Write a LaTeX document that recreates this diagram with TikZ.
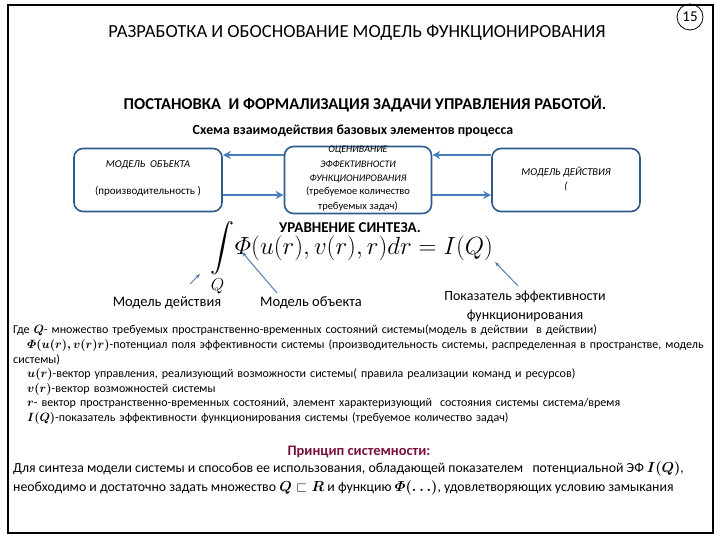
\documentclass[tikz,border=0pt]{standalone}
\usepackage{amsmath,amssymb}
\usepackage{fontspec}
\setmainfont{Carlito}
\usetikzlibrary{arrows.meta}
\definecolor{bx}{HTML}{2E5C8A}
\definecolor{ar}{HTML}{4A7EBB}
\definecolor{pr}{HTML}{7A1040}
\begin{document}
\begin{tikzpicture}[x=1pt,y=-1pt,
  box/.style={draw=bx,line width=1.6pt,rounded corners=9pt,fill=white},
  con/.style={ar,line width=2.2pt,-{Stealth[length=8pt,width=8pt]}},
  ptr/.style={ar!80!gray,line width=1pt,-{Stealth[length=5pt]}},
  tx/.style={inner sep=0pt,font=\fontsize{9}{11}\selectfont}]
\useasboundingbox (0,0) rectangle (720,540);
\draw[line width=1.2pt] (8,5) rectangle (713,533);
\node[draw,circle,line width=0.8pt,minimum size=26pt,inner sep=0pt,font=\fontsize{15}{15}\selectfont] (num) at (690,17) {15};
\node[tx,font=\fontsize{18.5}{20}\selectfont] (t1) at (357,33) {РАЗРАБОТКА И ОБОСНОВАНИЕ МОДЕЛЬ ФУНКЦИОНИРОВАНИЯ};
\node[tx,font=\bfseries\fontsize{16.5}{18}\selectfont] (t2) at (365,104) {ПОСТАНОВКА \ И ФОРМАЛИЗАЦИЯ ЗАДАЧИ УПРАВЛЕНИЯ РАБОТОЙ.};
\node[tx,font=\bfseries\fontsize{13.9}{15}\selectfont] (t3) at (353,131) {Схема взаимодействия базовых элементов процесса};
\node[box,minimum width=148pt,minimum height=63pt] (b1) at (148,180) {};
\node[box,minimum width=147pt,minimum height=67pt] (b2) at (358,180) {};
\node[box,minimum width=148pt,minimum height=63pt] (b3) at (566,180) {};
\node[tx,font=\itshape\fontsize{10.5}{12}\selectfont] (b1a) at (148,165) {МОДЕЛЬ \ ОБЪЕКТА};
\node[tx,font=\fontsize{11}{12}\selectfont] (b1b) at (148,191) {(производительность )};
\node[tx,align=center,font=\itshape\fontsize{10}{14.5}\selectfont] (b2a) at (358,165) {ОЦЕНИВАНИЕ\\ЭФФЕКТИВНОСТИ\\ФУНКЦИОНИРОВАНИЯ};
\node[tx,align=center,font=\fontsize{10.5}{14.5}\selectfont] (b2b) at (358,199) {(требуемое количество\\требуемых задач)};
\node[tx,align=center,font=\itshape\fontsize{10.5}{14}\selectfont] (b3a) at (566,179) {МОДЕЛЬ ДЕЙСТВИЯ\\(};
\draw[con] ([yshift=25pt]b2.west) -- ([yshift=25pt]b1.east);
\draw[con] ([yshift=25pt]b3.west) -- ([yshift=25pt]b2.east);
\draw[con] ([yshift=-15pt]b1.east) -- ([yshift=-15pt]b2.west);
\draw[con] ([yshift=-15pt]b2.east) -- ([yshift=-15pt]b3.west);
\node[tx,font=\bfseries\fontsize{15}{16}\selectfont] (eqt) at (350,228) {УРАВНЕНИЕ СИНТЕЗА.};
\node[inner sep=0pt,font=\fontsize{24}{28}\selectfont] (eq) at (352,259) {$\displaystyle\int\limits_{Q}\!\varPhi(u(r),v(r),r)dr=I(Q)$};
\node[tx,font=\fontsize{14.5}{16}\selectfont] (l1) at (167,303) {Модель действия};
\node[tx,font=\fontsize{14.5}{16}\selectfont] (l2) at (311,303) {Модель объекта};
\node[tx,align=center,font=\fontsize{14}{19}\selectfont] (l3) at (525,306) {Показатель эффективности\\функционирования};
\coordinate (p1) at (200,274); \coordinate (p2) at (242,252); \coordinate (p3) at (495,262);
\draw[ptr] (190,284) -- (p1);
\draw[ptr] (277,293) -- (p2);
\draw[ptr] (518,286) -- (p3);
\node[tx,anchor=north west,align=left,text width=692pt,font=\fontsize{12}{14.6}\selectfont] (def) at (13,325) {Где $\boldsymbol{Q}$- множество требуемых пространственно-временных состояний системы(модель в действии \ в действии)\\
\hspace*{14pt}$\boldsymbol{\varPhi(u(r),v(r)r)}$-потенциал поля эффективности системы (производительность системы, распределенная в пространстве, модель системы)\\
\hspace*{14pt}$\boldsymbol{u(r)}$-вектор управления, реализующий возможности системы( правила реализации команд и ресурсов)\\
\hspace*{14pt}$\boldsymbol{v(r)}$-вектор возможностей системы\\
\hspace*{14pt}$\boldsymbol{r}$- вектор пространственно-временных состояний, элемент характеризующий \ состояния системы система/время\\
\hspace*{14pt}$\boldsymbol{I(Q)}$-показатель эффективности функционирования системы (требуемое количество задач)};
\node[tx,text=pr,font=\bfseries\fontsize{14.5}{16}\selectfont] (pt) at (359,452) {Принцип системности:};
\node[tx,anchor=north west,align=left,font=\fontsize{13.8}{19}\selectfont] (pb) at (13,461) {Для синтеза модели системы и способов ее использования, обладающей показателем \ \ потенциальной ЭФ $\boldsymbol{I(Q)}$,\\
необходимо и достаточно задать множество $\boldsymbol{Q\sqsubset R}$ и функцию $\boldsymbol{\varPhi(\ldots)}$, удовлетворяющих условию замыкания};
\end{tikzpicture}
\end{document}
